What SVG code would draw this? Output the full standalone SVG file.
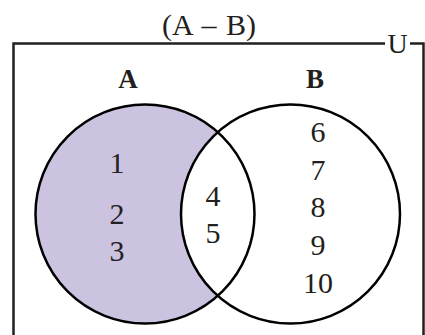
<svg xmlns="http://www.w3.org/2000/svg" width="425" height="335" viewBox="0 0 425 335">
<style>
text{font-family:"Liberation Serif","Times New Roman",serif;fill:#231f20}
.n{font-size:30px;text-anchor:middle}
.h{font-size:27px;font-weight:bold;text-anchor:middle}
.c{fill:none;stroke:#000;stroke-width:2.5}
</style>
<rect width="425" height="335" fill="#fff"/>
<g id="universe">
<path d="M13.5,335 V43.5 H385 M410,43.5 H423.5 V335" fill="none" stroke="#231f20" stroke-width="2.5"/>
<text x="397.5" y="53" style="font-size:28px" text-anchor="middle">U</text>
</g>
<text id="title" x="209" y="35" style="font-size:30px;word-spacing:2px" text-anchor="middle">(A – B)</text>
<g id="setA">
<circle cx="145" cy="214" r="109.5" fill="#cbc3e0"/>
<circle cx="290.5" cy="214" r="109.5" fill="#fff"/>
<text class="h" x="128" y="88">A</text>
<text class="n" x="117" y="173">1</text>
<text class="n" x="117" y="224">2</text>
<text class="n" x="117" y="261">3</text>
</g>
<g id="setB">
<text class="h" x="315" y="88">B</text>
<text class="n" x="318" y="142">6</text>
<text class="n" x="318" y="180">7</text>
<text class="n" x="318" y="217">8</text>
<text class="n" x="318" y="255">9</text>
<text class="n" x="318" y="293">10</text>
</g>
<g id="intersection">
<text class="n" x="213" y="206">4</text>
<text class="n" x="213" y="243">5</text>
</g>
<g id="connectors">
<circle class="c" cx="145" cy="214" r="109.5"/>
<circle class="c" cx="290.5" cy="214" r="109.5"/>
</g>
</svg>
